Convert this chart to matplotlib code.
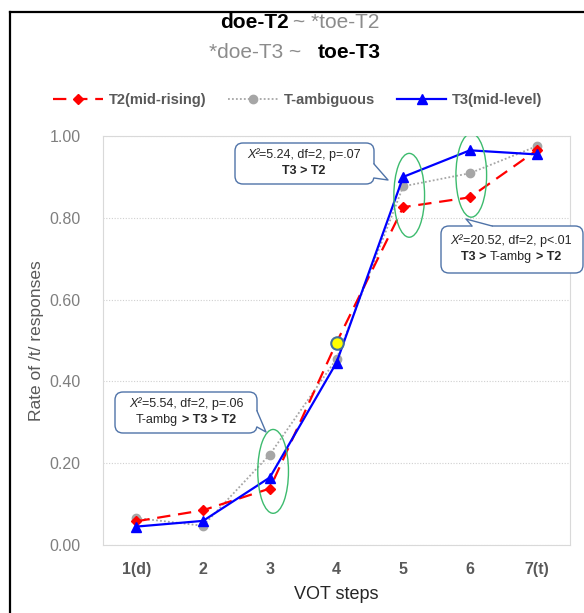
import matplotlib
matplotlib.use("Agg")
import matplotlib.pyplot as plt
from matplotlib.patches import Ellipse, FancyBboxPatch, Polygon
from matplotlib.lines import Line2D
from matplotlib.transforms import Affine2D
from matplotlib.offsetbox import TextArea, HPacker, VPacker, AnnotationBbox

# data
steps = ['1(d)', '2', '3', '4', '5', '6', '7(t)']
t2_mid_rising = [0.058, 0.085, 0.138, 0.495, 0.826, 0.850, 0.965]
t_ambiguous = [0.066, 0.047, 0.221, 0.455, 0.877, 0.909, 0.975]
t3_mid_level = [0.045, 0.059, 0.165, 0.446, 0.900, 0.965, 0.955]
yticks = [0.0, 0.2, 0.4, 0.6, 0.8, 1.0]

plt.rcParams['font.family'] = ['Liberation Sans', 'DejaVu Sans']

W, H = 584, 613
fig = plt.figure(figsize=(W / 100, H / 100), dpi=100)
px = Affine2D().scale(1 / W, -1 / H).translate(0, 1) + fig.transFigure

ax = fig.add_axes([103 / W, 1 - 545 / H, (570 - 103) / W, (545 - 136) / H])
x = list(range(len(steps)))

ax.plot(x, t2_mid_rising, color='#ff0000', lw=1.6, dashes=(6, 3.5), marker='D', ms=5,
        label='T2(mid-rising)', zorder=4)
ax.plot(x, t_ambiguous, color='#a6a6a6', lw=1.3, ls=(0, (1, 1.2)), marker='o', ms=6,
        label='T-ambiguous', zorder=3)
ax.plot(x, t3_mid_level, color='#0000ff', lw=1.6, marker='^', ms=7,
        label='T3(mid-level)', zorder=5)
# crossover point highlighted
ax.plot(x[3], t2_mid_rising[3], 'o', ms=9, mfc='#ffff00', mec='#41719c', mew=1.5, zorder=6)

ax.set_xlim(-0.5, len(steps) - 0.5)
ax.set_ylim(0, 1)
ax.set_xticks(x)
ax.set_xticklabels(steps, fontsize=11.5, fontweight='bold', color='#595959')
ax.set_yticks(yticks)
ax.set_yticklabels(['%.2f' % v for v in yticks], fontsize=11.5, color='#7f7f7f')
ax.tick_params(length=0, pad=12)
ax.tick_params(axis='y', pad=16)
for s in ax.spines.values():
    s.set_color('#d9d9d9')
ax.grid(axis='y', color='#d0d0d0', ls=(0, (1, 1.5)), lw=0.8)
ax.set_axisbelow(True)
ax.set_xlabel('VOT steps', fontsize=13, color='#262626', labelpad=7)
ax.set_ylabel('Rate of /t/ responses', fontsize=12.5, color='#595959', labelpad=4)

# green ellipses round the marked steps
for cx, cy in [(2.05, 0.18), (4.09, 0.855), (5.02, 0.904)]:
    ax.add_patch(Ellipse((cx, cy), 0.46, 0.205, fill=False, ec='#3dbb6e', lw=1, zorder=7))

leg = ax.legend(loc='center', bbox_to_anchor=(298 / W, 1 - 100 / H), bbox_transform=fig.transFigure,
                ncol=3, frameon=False, fontsize=10.5, handlelength=3.4, columnspacing=1.5,
                handletextpad=0.4)
for t in leg.get_texts():
    t.set_color('#595959')
    t.set_fontweight('bold')


def rich(lines, xy, size):
    rows = []
    for parts, sep in lines:
        kids = [TextArea(s, textprops=dict(fontsize=size, **p)) for s, p in parts]
        rows.append(HPacker(children=kids, align='baseline', pad=0, sep=sep))
    box = VPacker(children=rows, align='center', pad=0, sep=3)
    ab = AnnotationBbox(box, xy, xycoords=px, frameon=False, box_alignment=(0.5, 0.5), zorder=10)
    fig.add_artist(ab)


def callout(x0, y0, x1, y1, base, tip, inner):
    ec = '#4f73a8'
    fig.add_artist(FancyBboxPatch((x0, y0), x1 - x0, y1 - y0, boxstyle='round,pad=0,rounding_size=8',
                                  transform=px, fc='white', ec=ec, lw=1, zorder=8))
    fig.add_artist(Polygon([inner[0], base[0], tip, base[1], inner[1]], closed=True, transform=px,
                           fc='white', ec='none', zorder=9))
    fig.add_artist(Line2D([base[0][0], tip[0], base[1][0]], [base[0][1], tip[1], base[1][1]],
                          transform=px, color=ec, lw=1, zorder=9))


dark = dict(color='#262626')
bold = dict(color='#262626', fontweight='bold')
ital = dict(color='#262626', style='italic')

callout(235, 143, 374, 184, [(374, 164), (374, 178)], (388, 180), [(370, 164), (370, 178)])
rich([([('X²', ital), ('=5.24, df=2, p=.07', dark)], 0),
      ([('T3 > T2', bold)], 2)], (304, 163), 9)

callout(441, 226, 583, 273, [(472, 226), (492, 226)], (466, 219), [(472, 230), (492, 230)])
rich([([('X²', ital), ('=20.52, df=2, p<.01', dark)], 0),
      ([('T3 >', bold), ('T-ambg', dark), ('> T2', bold)], 2.5)], (511, 249), 9)

callout(115, 392, 257, 433, [(257, 411), (257, 427)], (266, 432), [(253, 411), (253, 427)])
rich([([('X²', ital), ('=5.54, df=2, p=.06', dark)], 0),
      ([('T-ambg', dark), ('> T3 > T2', bold)], 2.5)], (186, 412), 9)

# two-line title
gray = dict(color='#8c8c8c')
blk = dict(color='black', fontweight='bold')
rich([([('doe-T2', blk), ('~ *toe-T2', gray)], 3)], (300, 23), 15)
rich([([('*doe-T3 ~', gray), ('toe-T3', blk)], 12)], (295, 53), 15)

# frame of the original screenshot
fig.add_artist(Line2D([10, 10], [12, H], transform=px, color='black', lw=1.6))
fig.add_artist(Line2D([10, W], [12, 12], transform=px, color='black', lw=1.6))

fig.savefig('out.png', dpi=100)
